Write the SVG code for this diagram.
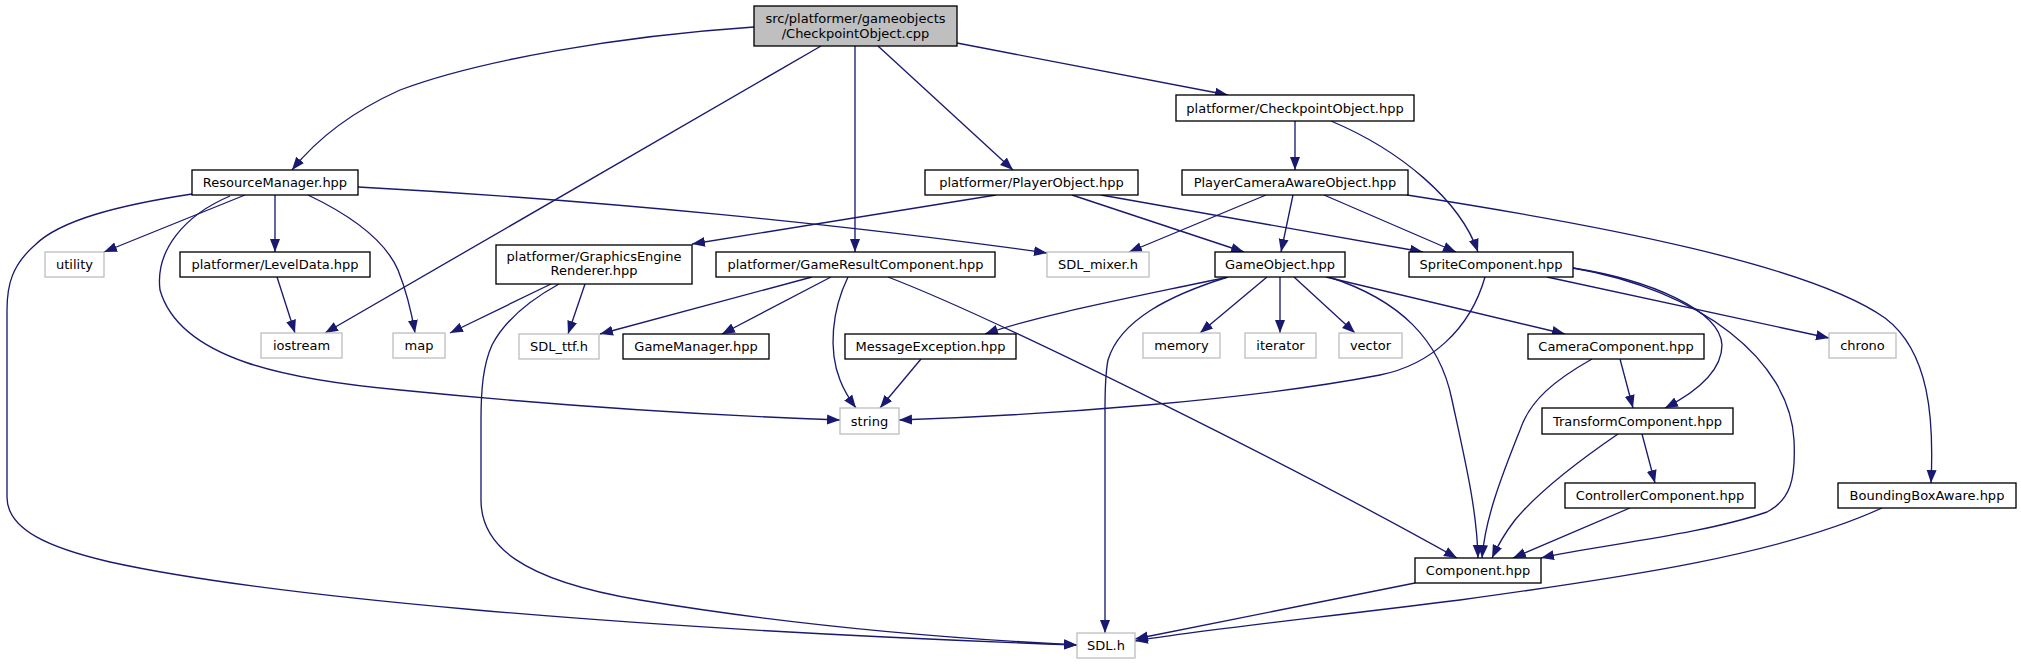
<svg xmlns="http://www.w3.org/2000/svg" width="2021" height="664" viewBox="0 0 2021 664">
<style>
text{font-family:"DejaVu Sans","Liberation Sans",sans-serif;font-size:13px;text-anchor:middle;fill:#000}
.n rect{fill:#fff;stroke:#000;stroke-width:1.33}
.s rect{fill:#fff;stroke:#bfbfbf;stroke-width:1.33}
.r rect{fill:#bfbfbf;stroke:#000;stroke-width:1.33}
#edges path{fill:none;stroke:#191970;stroke-width:1.33;marker-end:url(#a)}
</style>
<defs>
<marker id="a" markerUnits="userSpaceOnUse" markerWidth="14" markerHeight="11" refX="13" refY="5.5" orient="auto" viewBox="0 0 14 11">
<path d="M0,0.5 L13,5.5 L0,10.5 z" fill="#191970"/>
</marker>
</defs>
<rect width="2021" height="664" fill="#fff"/>
<g id="edges">
<path d="M754,27 C620,36 480,60 400,90 C360,108 320,135 292,170"/>
<path d="M821,46 L325,333"/>
<path d="M855,46 L855,252"/>
<path d="M878,46 L1013,170"/>
<path d="M957,43 L1228,95"/>
<path d="M1295,121 L1295,170"/>
<path d="M1331,121 C1400,150 1460,200 1478,252"/>
<path d="M1266,195 L1129,252"/>
<path d="M1293,195 L1281,252"/>
<path d="M1324,195 L1456,252"/>
<path d="M1407,195 C1600,225 1810,265 1885,318 C1930,352 1934,420 1931,483"/>
<path d="M996,195 L692,244"/>
<path d="M1072,195 L1244,252"/>
<path d="M1101,195 L1423,252"/>
<path d="M192,194 C120,205 60,220 35,245 C12,265 7,285 7,310 L7,497 C7,530 50,548 110,562 C260,595 600,628 1077,645"/>
<path d="M245,195 L104,252"/>
<path d="M230,196 C185,215 155,250 160,290 C180,360 290,380 400,390 C550,405 700,415 840,420"/>
<path d="M275,195 L275,252"/>
<path d="M308,195 C350,215 385,240 398,270 C408,295 412,315 415,333"/>
<path d="M358,187 C600,200 850,225 1047,253"/>
<path d="M277,277 L295,333"/>
<path d="M551,284 L450,333"/>
<path d="M585,284 L568,334"/>
<path d="M559,284 C530,300 505,320 492,345 C483,365 481,390 481,420 L481,500 C481,545 520,580 640,600 C760,620 900,636 1077,645"/>
<path d="M812,277 L600,334"/>
<path d="M831,277 L722,334"/>
<path d="M848,277 C832,310 828,350 840,380 C845,393 850,400 856,408"/>
<path d="M888,277 C1000,320 1300,470 1457,558"/>
<path d="M921,359 L880,408"/>
<path d="M1228,277 C1120,300 1040,315 985,334"/>
<path d="M1267,277 L1200,333"/>
<path d="M1280,277 L1280,333"/>
<path d="M1294,277 L1355,333"/>
<path d="M1326,277 L1565,334"/>
<path d="M1228,277 C1170,295 1120,320 1108,360 C1105,375 1105,390 1105,410 L1105,633"/>
<path d="M1329,277 C1400,300 1440,340 1452,400 C1465,460 1477,510 1478,558"/>
<path d="M1485,277 C1470,330 1430,365 1380,375 C1250,400 1050,415 899,420"/>
<path d="M1547,277 L1829,338"/>
<path d="M1573,268 C1650,280 1720,310 1722,345 C1722,370 1700,390 1665,408"/>
<path d="M1573,268 C1700,290 1790,360 1794,440 C1796,480 1790,500 1767,512 C1700,535 1600,545 1541,558"/>
<path d="M1620,359 L1633,408"/>
<path d="M1592,359 C1555,380 1530,400 1520,430 C1500,480 1485,520 1482,558"/>
<path d="M1642,434 L1655,483"/>
<path d="M1618,434 C1580,460 1540,490 1515,520 C1505,533 1498,545 1492,558"/>
<path d="M1630,508 L1513,558"/>
<path d="M1882,508 C1780,555 1620,578 1460,600 C1300,620 1200,630 1135,641"/>
<path d="M1415,583 L1135,639"/>
</g>
<g id="root" class="r"><rect x="754" y="6" width="203" height="40"/><text x="855.5" y="23">src/platformer/gameobjects</text><text x="855.5" y="38">/CheckpointObject.cpp</text></g>
<g id="resourcemanager" class="n"><rect x="192" y="170" width="166" height="25"/><text x="275" y="187">ResourceManager.hpp</text></g>
<g id="checkpointobject" class="n"><rect x="1176" y="95" width="238" height="26"/><text x="1295" y="113">platformer/CheckpointObject.hpp</text></g>
<g id="playerobject" class="n"><rect x="925" y="170" width="213" height="25"/><text x="1031.5" y="187">platformer/PlayerObject.hpp</text></g>
<g id="playercameraaware" class="n"><rect x="1182" y="170" width="226" height="25"/><text x="1295" y="187">PlayerCameraAwareObject.hpp</text></g>
<g id="utility" class="s"><rect x="45" y="252" width="59" height="25"/><text x="74.5" y="269">utility</text></g>
<g id="leveldata" class="n"><rect x="180" y="252" width="190" height="25"/><text x="275" y="269">platformer/LevelData.hpp</text></g>
<g id="graphicsengine" class="n"><rect x="496" y="245" width="196" height="39"/><text x="594" y="261">platformer/GraphicsEngine</text><text x="594" y="275">Renderer.hpp</text></g>
<g id="gameresult" class="n"><rect x="716" y="252" width="279" height="25"/><text x="855.5" y="269">platformer/GameResultComponent.hpp</text></g>
<g id="sdlmixer" class="s"><rect x="1047" y="252" width="102" height="25"/><text x="1098" y="269">SDL_mixer.h</text></g>
<g id="gameobject" class="n"><rect x="1215" y="252" width="130" height="25"/><text x="1280" y="269">GameObject.hpp</text></g>
<g id="spritecomponent" class="n"><rect x="1409" y="252" width="164" height="25"/><text x="1491" y="269">SpriteComponent.hpp</text></g>
<g id="iostream" class="s"><rect x="261" y="333" width="81" height="25"/><text x="301.5" y="350">iostream</text></g>
<g id="map" class="s"><rect x="393" y="333" width="52" height="25"/><text x="419" y="350">map</text></g>
<g id="sdlttf" class="s"><rect x="519" y="334" width="80" height="25"/><text x="559" y="351">SDL_ttf.h</text></g>
<g id="gamemanager" class="n"><rect x="623" y="334" width="146" height="25"/><text x="696" y="351">GameManager.hpp</text></g>
<g id="messageexception" class="n"><rect x="845" y="334" width="171" height="25"/><text x="930.5" y="351">MessageException.hpp</text></g>
<g id="memory" class="s"><rect x="1143" y="333" width="77" height="25"/><text x="1181.5" y="350">memory</text></g>
<g id="iterator" class="s"><rect x="1245" y="333" width="71" height="25"/><text x="1280.5" y="350">iterator</text></g>
<g id="vector" class="s"><rect x="1339" y="333" width="63" height="25"/><text x="1370.5" y="350">vector</text></g>
<g id="cameracomponent" class="n"><rect x="1528" y="334" width="176" height="25"/><text x="1616" y="351">CameraComponent.hpp</text></g>
<g id="chrono" class="s"><rect x="1829" y="333" width="67" height="25"/><text x="1862.5" y="350">chrono</text></g>
<g id="string" class="s"><rect x="840" y="408" width="59" height="26"/><text x="869.5" y="426">string</text></g>
<g id="transformcomponent" class="n"><rect x="1542" y="408" width="191" height="26"/><text x="1637.5" y="426">TransformComponent.hpp</text></g>
<g id="controllercomponent" class="n"><rect x="1565" y="483" width="190" height="25"/><text x="1660" y="500">ControllerComponent.hpp</text></g>
<g id="boundingboxaware" class="n"><rect x="1838" y="483" width="178" height="25"/><text x="1927" y="500">BoundingBoxAware.hpp</text></g>
<g id="component" class="n"><rect x="1415" y="558" width="126" height="25"/><text x="1478" y="575">Component.hpp</text></g>
<g id="sdl" class="s"><rect x="1077" y="633" width="58" height="25"/><text x="1106" y="650">SDL.h</text></g>
</svg>
